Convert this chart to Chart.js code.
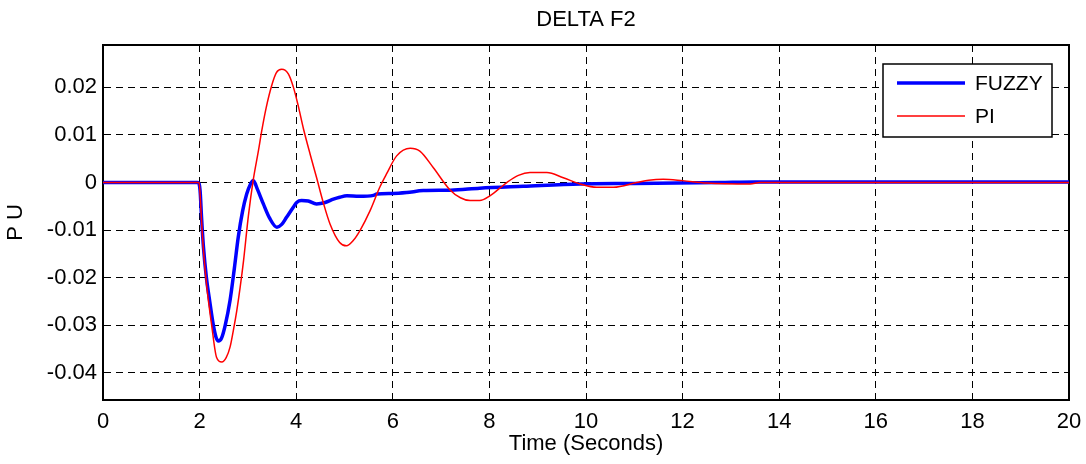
<!DOCTYPE html>
<html>
<head>
<meta charset="utf-8">
<script src="https://cdn.jsdelivr.net/npm/chart.js@4.4.1/dist/chart.umd.min.js"></script>
<style>
  html, body { margin: 0; padding: 0; background: #fff; }
  #wrap { width: 1086px; height: 464px; }
</style>
</head>
<body>
<div id="wrap"><canvas id="chart" width="1086" height="464"></canvas></div>
<script>
// values
const xTicks = [0, 2, 4, 6, 8, 10, 12, 14, 16, 18, 20];
const yTicks = [-0.04, -0.03, -0.02, -0.01, 0, 0.01, 0.02];

const fuzzyTime = [0, 1.97, 2.01, 2.04, 2.08, 2.14, 2.21, 2.28, 2.34, 2.39, 2.45, 2.53, 2.63, 2.72, 2.8,
  2.89, 2.975, 3.05, 3.11, 3.2, 3.32, 3.45, 3.6, 3.7, 3.8, 3.94, 4.01, 4.11, 4.25, 4.42, 4.6, 4.77,
  4.9, 5.05, 5.3, 5.6, 5.67, 6.0, 6.29, 6.63, 7.2, 7.8, 8.7, 9.88, 11, 12.77, 13.5, 20];
const fuzzyVals = [0, 0, -0.0017, -0.0073, -0.0136, -0.0199, -0.025, -0.0297, -0.0325, -0.0333, -0.0328,
  -0.03, -0.0248, -0.018, -0.0115, -0.006, -0.0024, -0.0004, 0.0004, -0.0015, -0.0045, -0.0075, -0.0094,
  -0.0088, -0.0073, -0.0052, -0.0042, -0.0038, -0.0039, -0.0045, -0.0042, -0.0035, -0.0031, -0.0028,
  -0.0029, -0.0027, -0.0024, -0.0023, -0.0021, -0.0017, -0.0016, -0.0012, -0.0008, -0.0003, -0.0002,
  0, 0.0001, 0.0001];

const piTime = [0, 1.99, 2.01, 2.04, 2.08, 2.15, 2.25, 2.35, 2.46, 2.55, 2.63, 2.7, 2.77, 2.84, 2.91,
  3.01, 3.11, 3.22, 3.28, 3.38, 3.49, 3.59, 3.7, 3.84, 3.94, 4.04, 4.15, 4.29, 4.42, 4.56, 4.7, 4.9,
  5.04, 5.18, 5.32, 5.53, 5.73, 5.87, 6.08, 6.36, 6.56, 6.84, 7.18, 7.4, 7.6, 7.8, 8.01, 8.36, 8.6,
  8.84, 9.19, 9.53, 9.88, 10.22, 10.57, 11.05, 11.3, 11.6, 12.0, 12.5, 13.4, 13.6, 20];
const piVals = [0, 0, -0.0024, -0.008, -0.0143, -0.022, -0.03, -0.0367, -0.0377, -0.0368, -0.0346,
  -0.031, -0.0269, -0.022, -0.0164, -0.007, 0.0005, 0.0068, 0.0105, 0.0158, 0.0203, 0.0231, 0.0238,
  0.0228, 0.0201, 0.0162, 0.0113, 0.0059, 0.0011, -0.0042, -0.0087, -0.0126, -0.0133, -0.0122, -0.0101,
  -0.0059, -0.001, 0.0018, 0.0056, 0.0072, 0.0066, 0.0031, -0.0015, -0.0032, -0.0038, -0.0038, -0.0028,
  0, 0.0015, 0.0021, 0.0021, 0.001, -0.0003, -0.001, -0.001, 0, 0.0005, 0.0007, 0.0004, -0.0001,
  -0.0003, 0, 0];

const FONT = "'Liberation Sans', Arial, sans-serif";
const FS = 22;
const LEGEND_FS = 21;

function pairs(xs, ys) {
  return xs.map((x, i) => ({ x, y: ys[i] }));
}

// matlab style legend box in the upper right corner
const boxLegend = {
  id: 'boxLegend',
  afterDraw(chart) {
    const ctx = chart.ctx;
    const x0 = 883, y0 = 64, w = 169, h = 73;
    ctx.save();
    ctx.fillStyle = '#fff';
    ctx.fillRect(x0, y0, w, h);
    ctx.strokeStyle = '#000';
    ctx.lineWidth = 1.5;
    ctx.strokeRect(x0, y0, w, h);
    ctx.font = `${LEGEND_FS}px ${FONT}`;
    ctx.textBaseline = 'middle';
    chart.data.datasets.forEach((ds, i) => {
      const y = y0 + 19 + i * 33;
      ctx.strokeStyle = ds.borderColor;
      ctx.lineWidth = ds.borderWidth;
      ctx.beginPath();
      ctx.moveTo(x0 + 14, y);
      ctx.lineTo(x0 + 82, y);
      ctx.stroke();
      ctx.fillStyle = '#000';
      ctx.fillText(ds.label, x0 + 92, y + 1);
    });
    ctx.restore();
  },
};

new Chart(document.querySelector('#chart'), {
  type: 'line',
  data: {
    datasets: [
      {
        label: 'FUZZY',
        data: pairs(fuzzyTime, fuzzyVals),
        borderColor: '#0000ff',
        borderWidth: 3.5,
        pointRadius: 0,
        cubicInterpolationMode: 'monotone',
        order: 2,
      },
      {
        label: 'PI',
        data: pairs(piTime, piVals),
        borderColor: '#ff0000',
        borderWidth: 1.5,
        pointRadius: 0,
        cubicInterpolationMode: 'monotone',
        order: 1,
      },
    ],
  },
  options: {
    responsive: false,
    animation: false,
    layout: { padding: { left: 0, right: 17, top: 0, bottom: 0 } },
    plugins: {
      legend: { display: false },
      tooltip: { enabled: false },
    },
    scales: {
      x: {
        type: 'linear',
        min: 0,
        max: 20,
        afterBuildTicks: (scale) => { scale.ticks = xTicks.map((value) => ({ value })); },
        afterFit: (scale) => { scale.height = 64; },
        ticks: { color: '#000', font: { family: FONT, size: FS }, padding: 0, maxRotation: 0 },
        grid: { color: '#000', lineWidth: 1, drawTicks: true, tickLength: 9, tickColor: 'rgba(0,0,0,0)' },
        border: { color: '#000', width: 2, dash: [7, 5] },
        title: {
          display: true,
          text: 'Time (Seconds)',
          color: '#000',
          font: { family: FONT, size: FS },
          padding: { top: 0, bottom: 6.8 },
        },
      },
      y: {
        type: 'linear',
        min: -0.0457,
        max: 0.0289,
        afterBuildTicks: (scale) => { scale.ticks = yTicks.map((value) => ({ value })); },
        afterFit: (scale) => { scale.width = 103; },
        ticks: { color: '#000', font: { family: FONT, size: FS }, padding: 6, callback: (v) => String(v) },
        grid: { color: '#000', lineWidth: 1, drawTicks: false },
        border: { color: '#000', width: 2, dash: [7, 5] },
        title: {
          display: true,
          text: 'P U',
          color: '#000',
          font: { family: FONT, size: FS },
          padding: { top: 2.8, bottom: 0 },
        },
      },
      x2: {
        type: 'linear',
        position: 'top',
        min: 0,
        max: 20,
        afterFit: (scale) => { scale.height = 45; },
        ticks: { display: false },
        grid: { display: false },
        border: { color: '#000', width: 2 },
        title: {
          display: true,
          text: 'DELTA F2',
          color: '#000',
          font: { family: FONT, size: FS },
          padding: { top: 6.3, bottom: 0 },
        },
      },
      y2: {
        type: 'linear',
        position: 'right',
        min: -0.0457,
        max: 0.0289,
        afterFit: (scale) => { scale.width = 0; },
        ticks: { display: false },
        grid: { display: false },
        border: { color: '#000', width: 2 },
      },
    },
  },
  plugins: [boxLegend],
});
</script>
</body>
</html>
